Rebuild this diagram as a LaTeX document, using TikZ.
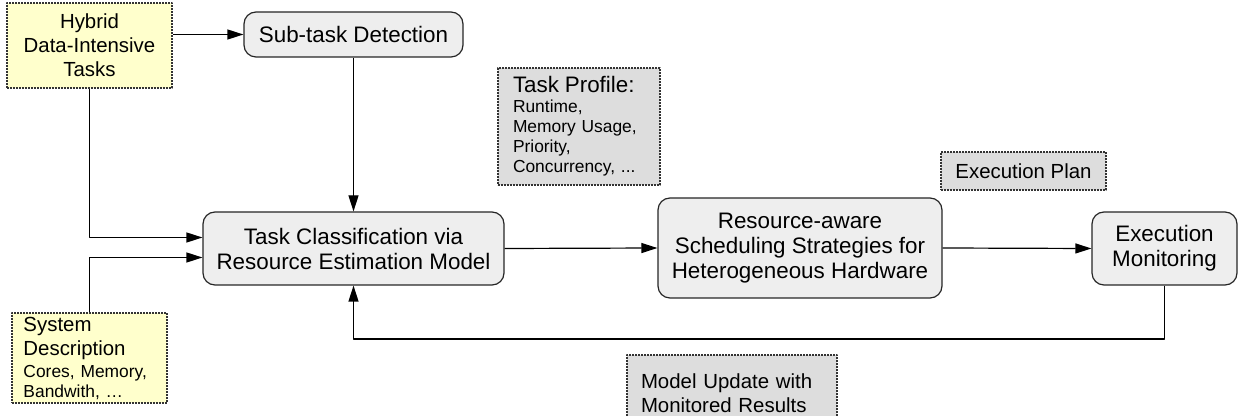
\documentclass[tikz,border=0pt]{standalone}
\usepackage{fontspec}
\setmainfont{Liberation Sans}
\usetikzlibrary{positioning}
\usetikzlibrary{arrows.meta}
\definecolor{notefill}{HTML}{FFFFCC}
\definecolor{stagefill}{HTML}{EEEEEE}
\definecolor{infofill}{HTML}{DDDDDD}
\newcommand{\bigtxt}{\fontsize{11.2}{12.5}\selectfont}
\newcommand{\midtxt}{\fontsize{10.2}{12}\selectfont}
\newcommand{\smalltxt}{\fontsize{8.7}{10}\selectfont}

\begin{document}
\begin{tikzpicture}[x=0.5pt,y=-0.5pt,line join=round,>={Triangle[length=8pt,width=5pt]},
  stage/.style={draw=black!85,line width=0.6pt,fill=stagefill,rounded corners=6pt,align=center,inner sep=0pt,font=\bigtxt},
  inputbox/.style={draw=black!80,line width=1pt,line cap=butt,dash pattern=on 0.8pt off 0.7pt,fill=notefill,inner sep=0pt},
  infobox/.style={draw=black!80,line width=1pt,line cap=butt,dash pattern=on 0.8pt off 0.7pt,fill=infofill,inner sep=0pt},
  link/.style={line width=0.6pt,->}]
\useasboundingbox (0,0) rectangle (1238,416);
\node[inputbox,minimum width=82.5pt,minimum height=42.5pt,align=center,font=\midtxt] (hybrid) at (89.5,45.5) {Hybrid\\Data-Intensive\\Tasks};
\node[stage,minimum width=109.5pt,minimum height=22.5pt] (subtask) at (353.5,34.5) {Sub-task Detection};
\node[infobox,minimum width=81pt,minimum height=58.5pt,text width=66pt,align=left,font=\smalltxt] (profile) at (579,126.5) {{\bigtxt Task Profile:}\\Runtime,\\Memory Usage,\\Priority,\\Concurrency, ...};
\node[stage,minimum width=150.5pt,minimum height=36.5pt] (classify) at (353.5,248.5) {Task Classification via\\Resource Estimation Model};
\node[stage,minimum width=142pt,minimum height=50pt] (sched) at (800,248) {Resource-aware\\Scheduling Strategies for\\Heterogeneous Hardware};
\node[stage,minimum width=72.5pt,minimum height=36.5pt] (monitor) at (1164.5,248.5) {Execution\\Monitoring};
\node[infobox,minimum width=82.5pt,minimum height=19pt,font=\midtxt] (plan) at (1023.5,171) {Execution Plan};
\node[inputbox,minimum width=77.5pt,minimum height=45pt,text width=66pt,align=left,font=\smalltxt] (system) at (89.5,358) {{\midtxt System}\\[2pt]{\midtxt Description}\\[1pt]Cores, Memory,\\Bandwith, \dots};
\node[infobox,minimum width=105pt,minimum height=38pt,text width=91pt,align=left,font=\midtxt] (update) at (732,393) {Model Update with\\Monitored Results};
\coordinate (back) at (353.5,339);
\draw[link] (hybrid.east |- subtask.west) -- (subtask.west);
\draw[link] (subtask.south) -- (classify.north);
\draw[link] (hybrid.south) |- ([yshift=5.5pt]classify.west);
\draw[link] (system.north) |- ([yshift=-4.5pt]classify.west);
\draw[link] (classify.east) -- (sched.west);
\draw[link] (sched.east) -- (monitor.west);
\draw[link] (monitor.south) |- (back) -- (classify.south);
\end{tikzpicture}
\end{document}
